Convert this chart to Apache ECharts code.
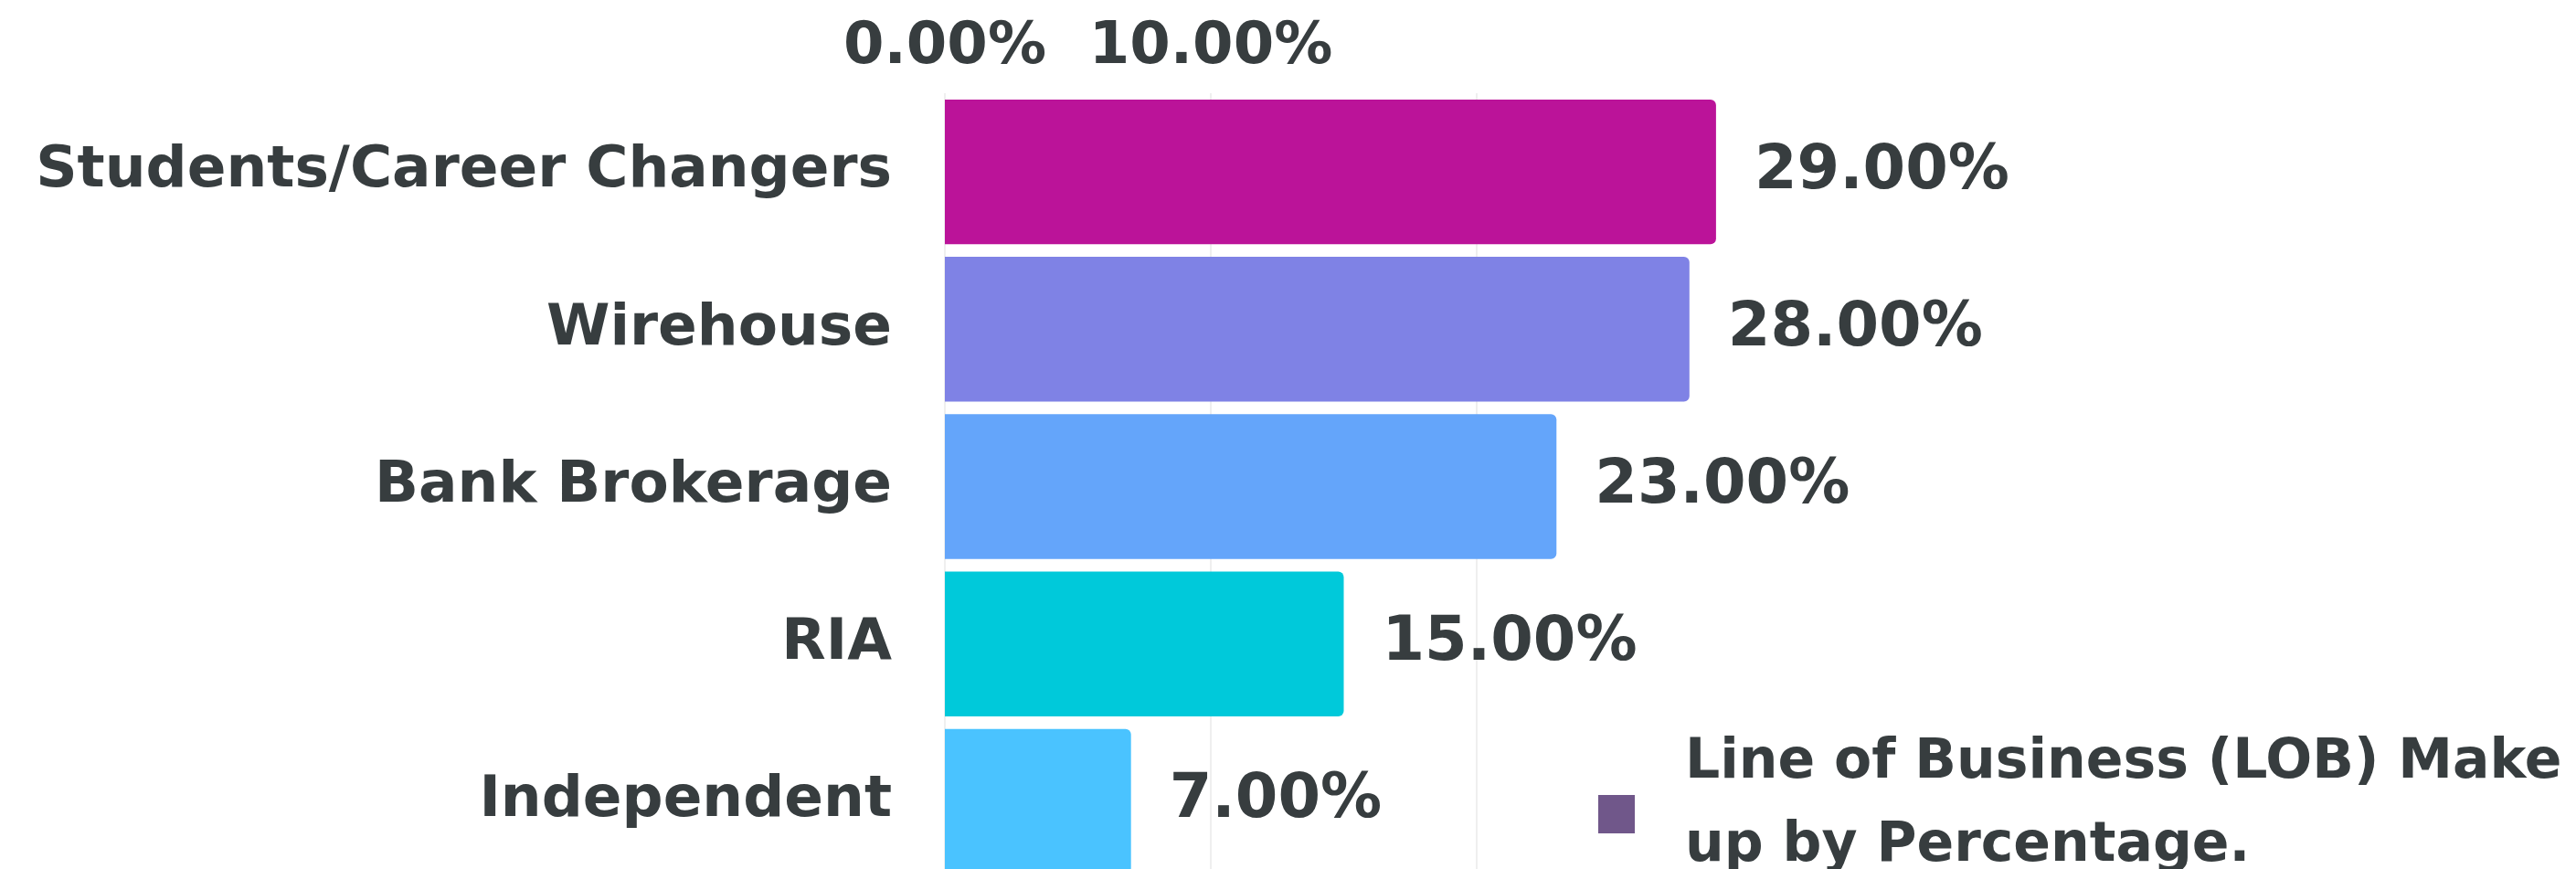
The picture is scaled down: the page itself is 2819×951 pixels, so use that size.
<!DOCTYPE html>
<html>
<head>
<meta charset="utf-8">
<script src="https://cdn.jsdelivr.net/npm/echarts@6/dist/echarts.min.js"></script>
<style>
  html, body { margin: 0; padding: 0; background: #fff; }
  #chart { width: 2819px; height: 951px; }
</style>
</head>
<body>
<div id="chart"></div>
<script>
// data
const categories = ['Students/Career Changers', 'Wirehouse', 'Bank Brokerage', 'RIA', 'Independent'];
const values = [29, 28, 23, 15, 7];
const barColors = ['#BB1399', '#7F82E5', '#64A5FA', '#00C9DA', '#4AC3FF'];
const seriesName = 'Line of Business (LOB) Make up by Percentage.';
const legendLines = ['Line of Business (LOB) Make', 'up by Percentage.'];
const axisTicks = [0, 10, 20];

const textColor = '#373D3F';
const font = '"DejaVu Sans", sans-serif';

const legendText = { color: textColor, fontFamily: font, fontWeight: 'bold', fontSize: 60 };

const chart = echarts.init(document.getElementById('chart'));

chart.setOption({
  animation: false,
  grid: { left: 1034, right: 1203, top: 102, height: 861, containLabel: false, outerBoundsMode: 'none' },
  legend: {
    data: [seriesName],
    left: 1744,
    top: 800,
    icon: 'rect',
    itemWidth: 40,
    itemHeight: 42,
    formatter: () => '{a|' + legendLines[0] + '}\n{b|' + legendLines[1] + '}',
    textStyle: {
      ...legendText,
      padding: [0, 0, 0, 50],
      rich: {
        a: { ...legendText, lineHeight: 70 },
        b: { ...legendText, lineHeight: 112 }
      }
    }
  },
  xAxis: {
    type: 'value',
    position: 'top',
    min: axisTicks[0],
    max: axisTicks[axisTicks.length - 1],
    interval: axisTicks[1] - axisTicks[0],
    axisLine: { show: false },
    axisTick: { show: false },
    splitLine: { lineStyle: { color: '#EFEFEF', width: 2 } },
    axisLabel: {
      showMaxLabel: false,
      margin: 18,
      color: textColor,
      fontFamily: font,
      fontWeight: 'bold',
      fontSize: 64,
      formatter: v => v.toFixed(2) + '%'
    }
  },
  yAxis: {
    type: 'category',
    inverse: true,
    data: categories,
    axisLine: { show: false },
    axisTick: { show: false },
    axisLabel: {
      margin: 58,
      color: textColor,
      fontFamily: font,
      fontWeight: 'bold',
      fontSize: 63
    }
  },
  series: [{
    name: seriesName,
    type: 'bar',
    clip: false,
    barCategoryGap: '8%',
    itemStyle: { color: '#70578A' },
    data: values.map((v, i) => ({
      value: v,
      itemStyle: { color: barColors[i], borderRadius: [0, 6, 6, 0] }
    })),
    label: {
      show: true,
      position: 'right',
      distance: 42,
      color: textColor,
      fontFamily: font,
      fontWeight: 'bold',
      fontSize: 67,
      formatter: p => p.value.toFixed(2) + '%'
    }
  }]
});
</script>
</body>
</html>
